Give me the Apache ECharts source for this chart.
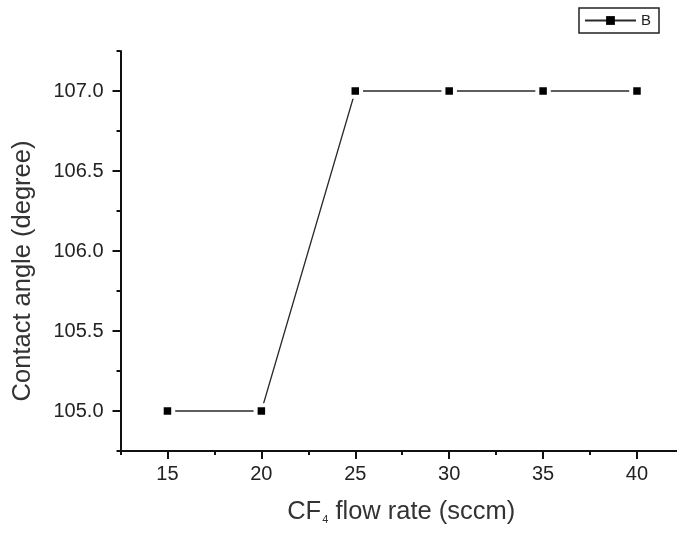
<!DOCTYPE html>
<html>
<head>
<meta charset="utf-8">
<script src="https://cdn.jsdelivr.net/npm/echarts@6/dist/echarts.min.js"></script>
<style>
  html, body { margin: 0; padding: 0; background: #fff; }
  #main { width: 677px; height: 534px; }
</style>
</head>
<body>
<div id="main"></div>
<script>
var flowRate = [15, 20, 25, 30, 35, 40];
var contactAngle = [105.0, 105.0, 107.0, 107.0, 107.0, 107.0];
var seriesName = 'B';

// tick positions (major = labelled, minor = half way)
var xMajor = [15, 20, 25, 30, 35, 40];
var xMinor = [12.5, 17.5, 22.5, 27.5, 32.5, 37.5];
var yMajor = [105.0, 105.5, 106.0, 106.5, 107.0];
var yMinor = [104.75, 105.25, 105.75, 106.25, 106.75, 107.25];

var points = [];
for (var i = 0; i < flowRate.length; i++) {
    points.push([flowRate[i], contactAngle[i]]);
}

var fontFamily = '"Liberation Sans", Arial, sans-serif';
var axisColor = '#111';

var xRange = { min: 12.5, max: 42.13 };
var yRange = { min: 104.75, max: 107.25 };

var option = {
    backgroundColor: '#fff',
    animation: false,
    grid: {
        left: 120.5,
        top: 51,
        right: 0,
        bottom: 83,
        outerBoundsMode: 'none'
    },
    legend: {
        data: [{ name: seriesName, itemStyle: { borderWidth: 0 } }],
        right: 18,
        top: 8,
        itemWidth: 51,
        itemHeight: 11,
        itemGap: 6,
        padding: [5, 8, 5, 5],
        borderColor: '#222',
        borderWidth: 1.5,
        borderRadius: 0,
        textStyle: { fontFamily: fontFamily, fontSize: 15, color: '#222' }
    },
    xAxis: [{
        type: 'value',
        min: xRange.min,
        max: xRange.max,
        name: '{a|CF}{s|4}{a| flow rate (sccm)}',
        nameLocation: 'center',
        nameGap: 47,
        nameTextStyle: {
            padding: [0, 0, 0, 5],
            rich: {
                a: { fontFamily: fontFamily, fontSize: 25.5, color: '#333' },
                s: { fontFamily: fontFamily, fontSize: 11, color: '#333', padding: [16, 0, 0, 1] }
            }
        },
        axisLine: { onZero: false, lineStyle: { color: axisColor, width: 2 } },
        axisTick: { show: true, length: 4, customValues: xMinor, lineStyle: { color: axisColor, width: 2 } },
        splitLine: { show: false },
        axisLabel: {
            customValues: xMajor,
            fontFamily: fontFamily, fontSize: 20, color: '#222', margin: 13
        }
    }, {
        type: 'value',
        position: 'bottom',
        min: xRange.min,
        max: xRange.max,
        axisLine: { show: false, onZero: false },
        axisTick: { show: true, length: 8, customValues: xMajor, lineStyle: { color: axisColor, width: 2 } },
        axisLabel: { show: false },
        splitLine: { show: false }
    }],
    yAxis: [{
        type: 'value',
        min: yRange.min,
        max: yRange.max,
        name: 'Contact angle (degree)',
        nameLocation: 'center',
        nameGap: 85,
        nameTextStyle: {
            fontFamily: fontFamily, fontSize: 25.5, color: '#333',
            padding: [0, 40, 0, 0]
        },
        axisLine: { show: true, onZero: false, lineStyle: { color: axisColor, width: 2 } },
        axisTick: { show: true, length: 4, customValues: yMinor, lineStyle: { color: axisColor, width: 2 } },
        splitLine: { show: false },
        axisLabel: {
            customValues: yMajor,
            fontFamily: fontFamily, fontSize: 20, color: '#222', margin: 17,
            formatter: function (v) { return v.toFixed(1); }
        }
    }, {
        type: 'value',
        position: 'left',
        min: yRange.min,
        max: yRange.max,
        axisLine: { show: false, onZero: false },
        axisTick: { show: true, length: 8, customValues: yMajor, lineStyle: { color: axisColor, width: 2 } },
        axisLabel: { show: false },
        splitLine: { show: false }
    }],
    series: [{
        name: seriesName,
        type: 'line',
        data: points,
        symbol: 'rect',
        symbolSize: 11.5,
        lineStyle: { color: '#2a2a2a', width: 1.3 },
        itemStyle: { color: '#000', borderColor: '#fff', borderWidth: 4 }
    }]
};

var myChart = echarts.init(document.getElementById('main'));
myChart.setOption(option);
</script>
</body>
</html>
